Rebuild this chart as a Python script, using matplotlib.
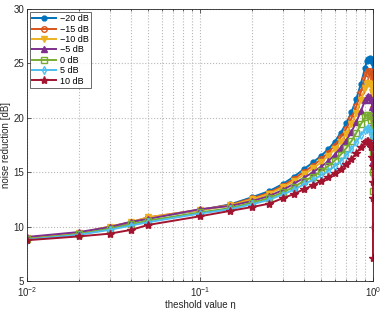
import matplotlib
matplotlib.use("Agg")
import matplotlib.pyplot as plt

plt.rcParams['font.family'] = ['Liberation Sans', 'DejaVu Sans']
plt.rcParams['mathtext.fontset'] = 'custom'
plt.rcParams['mathtext.rm'] = 'Liberation Sans'
plt.rcParams['mathtext.it'] = 'Liberation Sans:italic'

eta = [0.01, 0.02, 0.03, 0.04, 0.05, 0.1, 0.15, 0.2, 0.25, 0.3, 0.35, 0.4, 0.45,
       0.5, 0.55, 0.6, 0.65, 0.7, 0.75, 0.8, 0.85, 0.9, 0.92, 0.94, 0.96, 0.98,
       0.99, 0.995, 0.998, 0.999, 1.0]

labels = ["\u221220 dB", "\u221215 dB", "\u221210 dB", "\u22125 dB", "0 dB", "5 dB", "10 dB"]

nr_m20 = [8.9, 9.4, 9.95, 10.35, 10.8, 11.5, 12.05, 12.7, 13.25, 13.9, 14.6, 15.3, 15.9,
          16.5, 17.1, 17.8, 18.6, 19.5, 20.5, 21.7, 23.1, 24.6, 25.2, 25.45, 25.5, 25.4,
          25.2, 25.0, 24.0, 23.0, 22.0]
nr_m15 = [8.95, 9.4, 10.0, 10.4, 10.85, 11.55, 12.0, 12.6, 13.1, 13.75, 14.4, 15.05, 15.6,
          16.2, 16.8, 17.45, 18.2, 19.0, 19.95, 21.05, 22.35, 23.7, 24.15, 24.3, 24.3, 24.1,
          23.8, 23.6, 22.5, 21.5, 20.0]
nr_m10 = [8.95, 9.4, 10.0, 10.4, 10.85, 11.5, 11.95, 12.5, 13.0, 13.6, 14.2, 14.8, 15.35,
          15.9, 16.5, 17.1, 17.8, 18.55, 19.4, 20.4, 21.6, 22.75, 23.1, 23.2, 23.15, 22.9,
          22.4, 21.8, 20.8, 19.5, 18.0]
nr_m5 = [9.05, 9.5, 9.95, 10.45, 10.7, 11.6, 11.9, 12.35, 12.8, 13.35, 13.95, 14.5, 15.0,
         15.5, 16.0, 16.6, 17.25, 17.9, 18.7, 19.6, 20.6, 21.6, 21.9, 22.0, 21.9, 21.6,
         21.0, 20.6, 19.5, 18.0, 16.0]
nr_0 = [8.85, 9.3, 9.8, 10.2, 10.55, 11.3, 11.7, 12.2, 12.6, 13.15, 13.65, 14.2, 14.6,
        15.1, 15.55, 16.05, 16.6, 17.2, 17.85, 18.6, 19.4, 20.05, 20.25, 20.3, 20.2, 19.8,
        19.0, 18.0, 16.9, 15.0, 13.3]
nr_5 = [8.8, 9.25, 9.7, 10.1, 10.4, 11.2, 11.6, 12.05, 12.45, 12.95, 13.4, 13.9, 14.3,
        14.7, 15.1, 15.55, 16.0, 16.55, 17.1, 17.75, 18.4, 18.9, 19.0, 19.05, 18.9, 18.5,
        17.7, 16.5, 14.7, 12.5, 10.0]
nr_10 = [8.75, 9.1, 9.35, 9.7, 10.15, 10.95, 11.45, 11.8, 12.1, 12.6, 13.0, 13.45, 13.8,
         14.2, 14.55, 14.9, 15.3, 15.75, 16.2, 16.75, 17.3, 17.75, 17.85, 17.85, 17.7, 17.3,
         16.4, 15.6, 14.1, 12.6, 7.1]

series = [nr_m20, nr_m15, nr_m10, nr_m5, nr_0, nr_5, nr_10]
colors = ['#0072BD', '#D95319', '#EDB120', '#7E2F8E', '#77AC30', '#4DBEEE', '#A2142F']
markers = ['.', 'o', 'v', '^', 's', 'd', '*']
open_m = {'o', 's', 'd'}

fig = plt.figure(figsize=(3.82, 3.09), dpi=100)
ax = fig.add_axes([27/382, 1-281/309, 346/382, 272/309])

for vals, c, m, lab in zip(series, colors, markers, labels):
    ms = {'.': 7, '*': 6}.get(m, 4)
    ax.plot(eta, vals, color=c, marker=m, markersize=ms, linewidth=1.4,
            markerfacecolor=('none' if m in open_m else c), markeredgewidth=1.0,
            label=lab)

ax.set_xscale('log')
ax.set_xlim(0.01, 1.0)
ax.set_ylim(5, 30)
ax.set_yticks([5, 10, 15, 20, 25, 30])
ax.grid(True, which='major', linestyle=':', color='#b8b8b8', linewidth=0.8)
ax.grid(True, which='minor', axis='x', linestyle=':', color='#b8b8b8', linewidth=0.8)
ax.tick_params(which='both', direction='in', top=True, right=True, labelsize=7,
               colors='#262626', length=3, width=0.5, pad=2)
ax.tick_params(axis='x', which='both', pad=3)
ax.tick_params(which='minor', length=1.5)
for s in ax.spines.values():
    s.set_color('#262626')
    s.set_linewidth(0.6)

ax.set_xlabel('theshold value \u03b7', fontsize=7, color='#262626')
ax.set_ylabel('noise reduction [dB]', fontsize=7, color='#262626')
ax.xaxis.set_label_coords(0.5, -0.07)
ax.yaxis.set_label_coords(-0.046, 0.5)

leg = ax.legend(loc='upper left', fontsize=6.5, frameon=True, fancybox=False,
                edgecolor='#262626', borderpad=0.3, labelspacing=0.15,
                handlelength=2.6, handletextpad=0.4, borderaxespad=0.3)
leg.get_frame().set_linewidth(0.6)

fig.savefig('out.png', dpi=100)
